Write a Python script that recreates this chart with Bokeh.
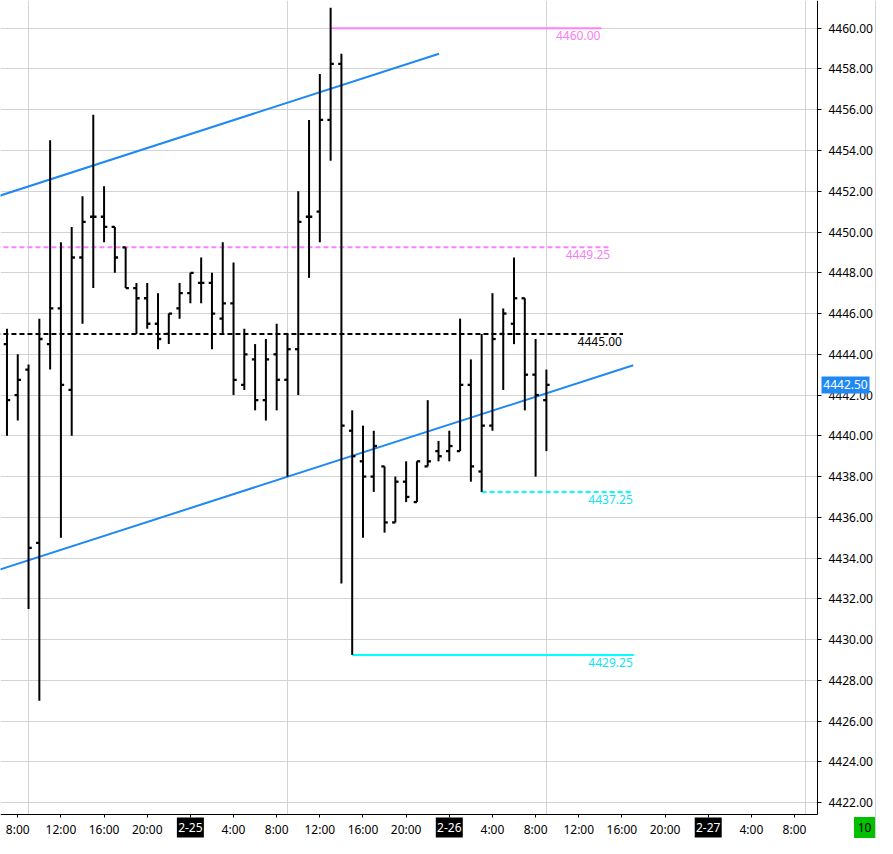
from bokeh.plotting import figure
from bokeh.models import Range1d, FixedTicker, NumeralTickFormatter, LinearAxis
from bokeh.embed import file_html
from bokeh.resources import INLINE
from bokeh.core.properties import value

# ---------------- data ----------------
# hourly OHLC bars; hours counted from 2-24 00:00, first bar at 2-24 07:00
bar_hours = [7, 8, 9, 10, 11, 12, 13, 14, 15, 16, 17, 18, 19, 20, 21, 22, 23, 24, 25, 26,
             27, 28, 29, 30, 31, 32, 33, 34, 35, 36, 37, 38, 39, 40, 41, 42, 43, 44, 45, 46,
             47, 48, 49, 50, 51, 52, 53, 54, 55, 56, 57]
opens = [4444.50, 4442.00, 4443.25, 4434.75, 4444.50, 4446.25, 4442.25, 4448.75, 4450.75, 4450.75,
         4450.25, 4449.25, 4447.25, 4446.75, 4445.50, 4445.00, 4446.25, 4447.00, 4447.50, 4447.50,
         4445.75, 4446.50, 4442.50, 4443.75, 4441.75, 4444.00, 4442.75, 4444.25, 4450.75, 4451.00,
         4455.50, 4458.25, 4440.25, 4438.75, 4438.00, 4438.50, 4435.75, 4437.75, 4436.75, 4438.50,
         4439.25, 4439.25, 4439.25, 4442.50, 4438.25, 4440.50, 4445.00, 4445.50, 4446.75, 4443.00,
         4441.75]
highs = [4445.25, 4444.00, 4443.50, 4445.75, 4454.50, 4449.50, 4450.25, 4451.75, 4455.75, 4452.25,
         4450.25, 4449.25, 4447.50, 4447.50, 4447.00, 4446.00, 4447.50, 4448.00, 4448.75, 4448.00,
         4449.50, 4448.50, 4445.25, 4444.50, 4444.75, 4445.50, 4445.00, 4452.00, 4455.50, 4457.75,
         4461.00, 4458.75, 4441.25, 4440.50, 4440.25, 4438.50, 4438.00, 4438.75, 4438.75, 4441.75,
         4439.75, 4440.25, 4445.75, 4443.75, 4445.00, 4447.00, 4446.25, 4448.75, 4446.75, 4444.75,
         4443.25]
lows = [4440.00, 4440.75, 4431.50, 4427.00, 4443.25, 4435.00, 4440.00, 4445.50, 4447.25, 4449.50,
        4448.00, 4447.25, 4445.00, 4445.25, 4444.25, 4444.50, 4445.75, 4446.50, 4446.50, 4444.25,
        4445.00, 4442.00, 4442.25, 4441.25, 4440.75, 4441.25, 4438.00, 4442.00, 4447.75, 4449.50,
        4453.50, 4432.75, 4429.25, 4435.00, 4437.25, 4435.25, 4435.75, 4436.75, 4436.75, 4438.50,
        4438.75, 4438.75, 4439.25, 4437.75, 4437.25, 4440.25, 4442.25, 4444.50, 4441.25, 4438.00,
        4439.25]
closes = [4441.75, 4442.75, 4434.50, 4444.75, 4446.25, 4442.50, 4448.75, 4450.50, 4450.75, 4450.25,
          4448.75, 4447.25, 4446.75, 4445.50, 4444.75, 4446.00, 4447.00, 4448.00, 4447.50, 4446.00,
          4446.50, 4442.75, 4444.00, 4441.75, 4443.75, 4442.75, 4444.25, 4450.50, 4450.75, 4455.50,
          4458.25, 4440.50, 4439.00, 4438.00, 4439.50, 4435.75, 4437.75, 4437.00, 4438.75, 4438.75,
          4439.00, 4439.50, 4442.50, 4438.50, 4440.50, 4444.75, 4446.00, 4446.75, 4443.00, 4442.00,
          4442.50]
last_price = 4442.50
counter_text = "10"

# time axis
tick_hours = [8, 12, 16, 20, 24, 28, 32, 36, 40, 44, 48, 52, 56, 60, 64, 68, 72, 76, 80]
tick_labels = ["8:00", "12:00", "16:00", "20:00", "2-25", "4:00", "8:00", "12:00", "16:00",
               "20:00", "2-26", "4:00", "8:00", "12:00", "16:00", "20:00", "2-27", "4:00", "8:00"]
day_hours = [24, 48, 72]
day_labels = ["2-25", "2-26", "2-27"]
session_hours = [9, 33, 57, 81]
price_ticks = [4422, 4424, 4426, 4428, 4430, 4432, 4434, 4436, 4438, 4440,
               4442, 4444, 4446, 4448, 4450, 4452, 4454, 4456, 4458, 4460]

# horizontal levels
level_values = [4460.00, 4449.25, 4445.00, 4437.25, 4429.25]
level_start = [37, 0, 0, 51, 39]
level_end = [62.1, 63.0, 64.1, 65.1, 65.1]
level_colors = ["#ff80ff", "#ff80ff", "#000000", "#00ffff", "#00ffff"]
level_text_colors = ["#f57ef5", "#f57ef5", "#000000", "#10e4f4", "#10e4f4"]
level_dashed = [False, True, True, True, False]

# channel trend lines (hour, price) endpoints
upper_x = [0.0, 47.05]
upper_y = [4450.70, 4458.75]
lower_x = [0.0, 65.05]
lower_y = [4432.36, 4443.46]

# ---------------- layout ----------------
W, H = 877, 838          # whole canvas
DW, DH = 817, 814        # price/time data area
X0, X1 = 6.4, 82.13
Y0, Y1 = 4421.42, 4461.36
XPX = DW / (X1 - X0)
YPX = DH / (Y1 - Y0)
XR = X0 + W / XPX
YB = Y1 - H / YPX
FONT = "Noto Sans"

p = figure(frame_width=W, frame_height=H,
           x_range=Range1d(X0, XR), y_range=Range1d(YB, Y1),
           output_backend="svg", toolbar_location=None,
           x_axis_location=None, y_axis_location=None,
           min_border_left=0, min_border_top=0, min_border_right=0, min_border_bottom=0)
p.outline_line_color = None
p.background_fill_color = "white"
p.border_fill_color = "white"

# axes (fixed at the edge of the price area)
yax = LinearAxis(fixed_location=X1, bounds=(Y0, Y1))
yax.ticker = FixedTicker(ticks=price_ticks)
yax.formatter = NumeralTickFormatter(format="0.00")
yax.major_label_text_font = FONT
yax.major_label_text_font_size = "12px"
yax.major_label_text_color = "#000000"
yax.axis_line_color = "black"
yax.major_tick_line_color = "black"
yax.major_tick_out = 4
yax.major_tick_in = 0
yax.minor_tick_line_color = None
yax.major_label_standoff = 7
p.add_layout(yax, "right")

xax = LinearAxis(fixed_location=Y0, bounds=(X0, X1))
xax.ticker = FixedTicker(ticks=tick_hours)
overrides = {}
for h, lab in zip(tick_hours, tick_labels):
    overrides[h] = "" if h in day_hours else lab
xax.major_label_overrides = overrides
xax.major_label_text_font = FONT
xax.major_label_text_font_size = "12px"
xax.major_label_text_color = "#000000"
xax.axis_line_color = "black"
xax.major_tick_line_color = "black"
xax.major_tick_out = 3
xax.major_tick_in = 0
xax.minor_tick_line_color = None
xax.major_label_standoff = 3
p.add_layout(xax, "below")

# grids
p.ygrid.ticker = FixedTicker(ticks=price_ticks)
p.xgrid.ticker = FixedTicker(ticks=session_hours)
p.grid.grid_line_color = "#d3d3d3"
p.grid.grid_line_width = 1

# blank scale strips (right price scale, bottom time scale)
p.quad(left=[X1, X0 - 10], right=[XR + 10, XR + 10], bottom=[YB - 10, YB - 10], top=[Y1 + 10, Y0],
       fill_color="white", line_color=None)

# right border of the price scale panel
edge_x = XR - 2 / XPX
p.line([edge_x, edge_x], [YB, Y1], line_color="#d3d3d3", line_width=1)

# trend lines
p.line(upper_x, upper_y, line_color="#1e88f5", line_width=2)
p.line(lower_x, lower_y, line_color="#1e88f5", line_width=2)

# levels
for v, s, e, c, d in zip(level_values, level_start, level_end, level_colors, level_dashed):
    p.line([s, e], [v, v], line_color=c, line_width=2,
           line_dash="5 3" if d else "solid")

p.text(x=level_end, y=level_values, text=[f"{v:.2f}" for v in level_values],
       text_color=level_text_colors, text_align="right", text_baseline="top",
       y_offset=3, x_offset=-1, text_font=value(FONT), text_font_size="12px")

# OHLC bars
tick_len = 0.3
p.segment(x0=bar_hours, y0=lows, x1=bar_hours, y1=highs, line_color="black", line_width=2)
p.segment(x0=[h - tick_len for h in bar_hours], y0=opens, x1=bar_hours, y1=opens,
          line_color="black", line_width=2.3)
p.segment(x0=bar_hours, y0=closes, x1=[h + tick_len for h in bar_hours], y1=closes,
          line_color="black", line_width=2.3)

# date labels on the time scale
box_y = Y0 - 13 / YPX
p.rect(x=day_hours, y=[box_y] * len(day_hours), width=27, height=20,
       width_units="screen", height_units="screen", fill_color="black", line_color=None,
       level="overlay")
p.text(x=day_hours, y=[box_y] * len(day_hours), text=day_labels, text_color="white",
       text_align="center", text_baseline="middle", text_font=value(FONT),
       text_font_size="12px", level="overlay")

# last price marker on the price scale
px_x = X1 + 28 / XPX
p.rect(x=[px_x], y=[last_price], width=48, height=17, width_units="screen",
       height_units="screen", fill_color="#1e88f5", line_color=None, level="overlay")
p.text(x=[px_x], y=[last_price], text=[f"{last_price:.2f}"], text_color="white",
       text_align="center", text_baseline="middle", text_font=value(FONT),
       text_font_size="12px", level="overlay")

# green counter box
cx = X1 + 47 / XPX
p.rect(x=[cx], y=[box_y], width=21, height=21, width_units="screen", height_units="screen",
       fill_color="#00c000", line_color=None, level="overlay")
p.text(x=[cx], y=[box_y], text=[counter_text], text_color="black", text_align="center",
       text_baseline="middle", text_font=value(FONT), text_font_size="12px", level="overlay")

open("out.html", "w").write(file_html(p, INLINE))
